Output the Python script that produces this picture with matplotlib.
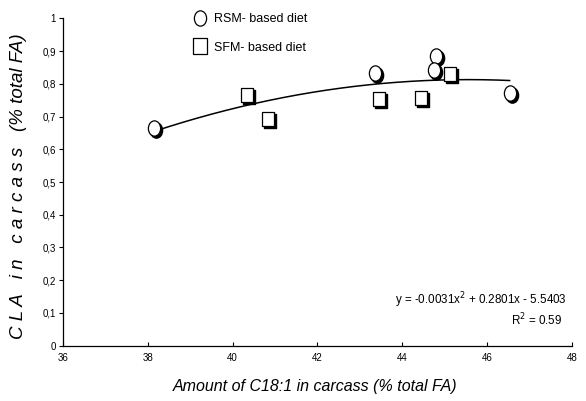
import numpy as np
import matplotlib
matplotlib.use("Agg")
from matplotlib import pyplot as plt
from matplotlib import transforms
from matplotlib.path import Path
from matplotlib.lines import Line2D

plt.rcParams['font.family'] = ['Liberation Sans', 'DejaVu Sans']

# Data
rsm_x = [38.15, 43.36, 44.80, 44.75, 46.53]
rsm_y = [0.664, 0.832, 0.885, 0.842, 0.773]
sfm_x = [40.33, 40.84, 43.46, 44.43, 45.13]
sfm_y = [0.766, 0.692, 0.753, 0.757, 0.829]

x_ticks = [36, 38, 40, 42, 44, 46, 48]
y_ticks = [0, 0.1, 0.2, 0.3, 0.4, 0.5, 0.6, 0.7, 0.8, 0.9, 1]
y_labels = ["0", "0,1", "0,2", "0,3", "0,4", "0,5", "0,6", "0,7", "0,8", "0,9", "1"]

equation = "y = -0.0031x$^2$ + 0.2801x - 5.5403"
r2_text = "R$^2$ = 0.59"

# slightly tall ellipse / rectangle markers like the original
circ = Path.unit_circle()
ellipse = Path(circ.vertices * np.array([0.8, 1.0]), circ.codes)
rect = Path([(-0.43, -0.5), (0.43, -0.5), (0.43, 0.5), (-0.43, 0.5), (-0.43, -0.5)],
            [Path.MOVETO, Path.LINETO, Path.LINETO, Path.LINETO, Path.CLOSEPOLY])

fig = plt.figure(figsize=(5.86, 4.01), dpi=100)
ax = fig.add_axes([0.1075, 0.138, 0.8686, 0.816])

# trend line (2nd order polynomial fitted on all points)
all_x = np.array(rsm_x + sfm_x)
all_y = np.array(rsm_y + sfm_y)
coef = np.polyfit(all_x, all_y, 2)
xs = np.linspace(all_x.min(), all_x.max(), 200)
ax.plot(xs, np.polyval(coef, xs), color='black', lw=1.1, zorder=2)

# markers with a drop shadow
shadow = transforms.offset_copy(ax.transData, fig=fig, x=2, y=-2, units='dots')
ax.plot(rsm_x, rsm_y, ls='none', marker=ellipse, ms=11, mfc='black', mec='black',
        transform=shadow, zorder=3)
ax.plot(sfm_x, sfm_y, ls='none', marker=rect, ms=10.5, mfc='black', mec='black',
        transform=shadow, zorder=3)
ax.plot(rsm_x, rsm_y, ls='none', marker=ellipse, ms=11, mfc='white', mec='black',
        mew=0.9, zorder=4)
ax.plot(sfm_x, sfm_y, ls='none', marker=rect, ms=10.5, mfc='white', mec='black',
        mew=0.9, zorder=4)

ax.set_xlim(36, 48)
ax.set_ylim(0, 1)
ax.set_xticks(x_ticks)
ax.set_yticks(y_ticks)
ax.set_yticklabels(y_labels)
ax.tick_params(axis='x', direction='in', length=3, labelsize=7, pad=5)
ax.tick_params(axis='y', direction='out', length=3, labelsize=7, pad=2)
for s in ['top', 'right']:
    ax.spines[s].set_visible(False)
for s in ['left', 'bottom']:
    ax.spines[s].set_linewidth(0.9)

fig.text(0.031, 0.535, "C L A   i n   c a r c a s s   (% total FA)", rotation=90,
         ha='center', va='center', style='italic', fontsize=13.5)
fig.text(0.537, 0.037, "Amount of C18:1 in carcass (% total FA)",
         ha='center', va='center', style='italic', fontsize=11.5)

ax.text(0.990, 0.14, equation, transform=ax.transAxes, ha='right', va='center', fontsize=8.4)
ax.text(0.980, 0.079, r2_text, transform=ax.transAxes, ha='right', va='center', fontsize=8.4)

handles = [
    Line2D([], [], ls='none', marker=ellipse, ms=11, mfc='white', mec='black', mew=0.9),
    Line2D([], [], ls='none', marker=rect, ms=11, mfc='white', mec='black', mew=0.9),
]
fig.legend(handles, ["RSM- based diet", "SFM- based diet"], loc='upper left',
           bbox_to_anchor=(0.31, 0.995), frameon=False, fontsize=9,
           labelspacing=1.3, handletextpad=0.45, handlelength=1.2)

fig.savefig("out.png", dpi=100)
